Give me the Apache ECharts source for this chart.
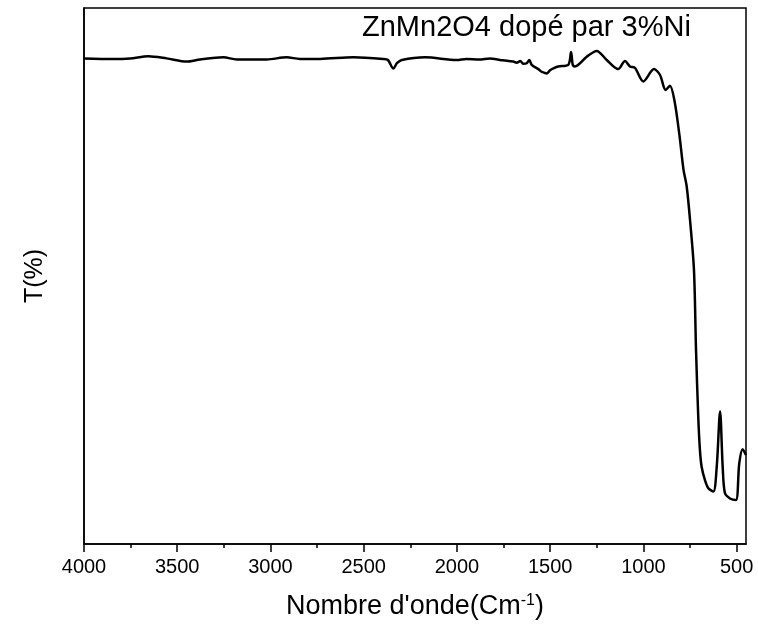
<!DOCTYPE html>
<html>
<head>
<meta charset="utf-8">
<script src="https://cdn.jsdelivr.net/npm/echarts@6/dist/echarts.min.js"></script>
<style>
  html, body { margin: 0; padding: 0; background: #fff; }
  #chart { width: 758px; height: 634px; }
</style>
</head>
<body>
<div id="chart"></div>
<script>
// FTIR spectrum: wavenumber (cm-1) and transmittance (%)
const wavenumbers = [
  4000, 3843, 3753, 3655, 3557, 3449, 3378, 3253, 3181, 3020,
  2913, 2842, 2734, 2556, 2395, 2370, 2341, 2322, 2296, 2171,
  2001, 1950, 1880, 1823, 1769, 1740, 1698, 1680, 1660, 1645,
  1626, 1612, 1599, 1560, 1546, 1530, 1519, 1501, 1480,
  1457, 1403, 1388, 1379, 1367, 1304, 1251, 1197, 1135, 1099,
  1072, 1045, 1001, 943, 911, 881, 858, 833, 806, 785,
  768, 750, 729, 718, 706, 697, 688, 670, 652, 625,
  607, 589, 575, 563, 536, 504, 486, 468, 450
];
const transmittance = [
  90.6, 90.5, 90.6, 91.0, 90.6, 90.0, 90.4, 90.8, 90.4, 90.4,
  90.8, 90.5, 90.5, 90.8, 90.5, 90.3, 88.7, 89.7, 90.3, 90.8,
  90.3, 90.5, 90.4, 90.6, 90.3, 90.2, 90.0, 89.8, 90.1, 89.6,
  89.7, 90.3, 89.4, 88.5, 88.1, 87.9, 87.8, 88.4, 88.8,
  89.1, 89.4, 91.8, 89.4, 89.1, 90.9, 92.0, 90.3, 88.6, 90.1,
  89.1, 88.8, 86.3, 88.6, 87.5, 84.7, 85.5, 82.6, 76.0, 69.8,
  66.7, 60.4, 51.1, 36.2, 23.7, 17.5, 14.4, 11.9, 10.4, 9.8,
  14.4, 24.7, 14.4, 9.5, 8.5, 8.2, 15.1, 17.7, 16.6
];
const majorTicks = [500, 1000, 1500, 2000, 2500, 3000, 3500, 4000];
const minorTicks = [750, 1250, 1750, 2250, 2750, 3250, 3750];

const spectrum = wavenumbers.map((w, i) => [w, transmittance[i]]);
const font = 'Arial, "Liberation Sans", sans-serif';

const chart = echarts.init(document.getElementById('chart'), null, { renderer: 'canvas' });
chart.setOption({
  animation: false,
  backgroundColor: '#fff',
  grid: {
    left: 84, right: 12, top: 8, bottom: 90,
    show: true, borderColor: '#000', borderWidth: 1.5, backgroundColor: 'transparent'
  },
  graphic: [{
    type: 'text',
    left: 362, top: 13,
    style: { text: 'ZnMn2O4 dopé par 3%Ni', font: '29px ' + font, fill: '#000' }
  }],
  xAxis: [{
    type: 'value',
    inverse: true,
    min: 450, max: 4000,
    position: 'bottom',
    axisLine: { show: true, lineStyle: { color: '#000', width: 1.5 } },
    axisTick: { show: true, inside: false, length: 8, customValues: majorTicks, lineStyle: { color: '#000', width: 1.5 } },
    axisLabel: {
      show: true, customValues: majorTicks, margin: 13, color: '#000', fontSize: 20, fontFamily: font,
      formatter: v => String(v)
    },
    splitLine: { show: false },
    name: 'Nombre d\'onde(Cm{sup|-1})',
    nameLocation: 'middle',
    nameGap: 49,
    nameTextStyle: {
      color: '#000', fontSize: 27, fontFamily: font,
      rich: { sup: { fontSize: 16, verticalAlign: 'top', padding: [0, 0, 12, 0], color: '#000', fontFamily: font } }
    }
  }, {
    type: 'value',
    inverse: true,
    min: 450, max: 4000,
    position: 'bottom',
    axisLine: { show: false },
    axisTick: { show: true, inside: false, length: 4, customValues: minorTicks, lineStyle: { color: '#000', width: 1.5 } },
    axisLabel: { show: false },
    splitLine: { show: false }
  }],
  yAxis: {
    type: 'value',
    min: 0, max: 100,
    axisLine: { show: true, lineStyle: { color: '#000', width: 1.5 } },
    axisTick: { show: false },
    axisLabel: { show: false },
    splitLine: { show: false },
    name: 'T(%)',
    nameLocation: 'middle',
    nameGap: 36,
    nameTextStyle: { color: '#000', fontSize: 25, fontFamily: font }
  },
  series: [{
    type: 'line',
    data: spectrum,
    showSymbol: false,
    smooth: 0.3,
    lineStyle: { color: '#000', width: 2.5 },
    clip: true
  }]
});
</script>
</body>
</html>
